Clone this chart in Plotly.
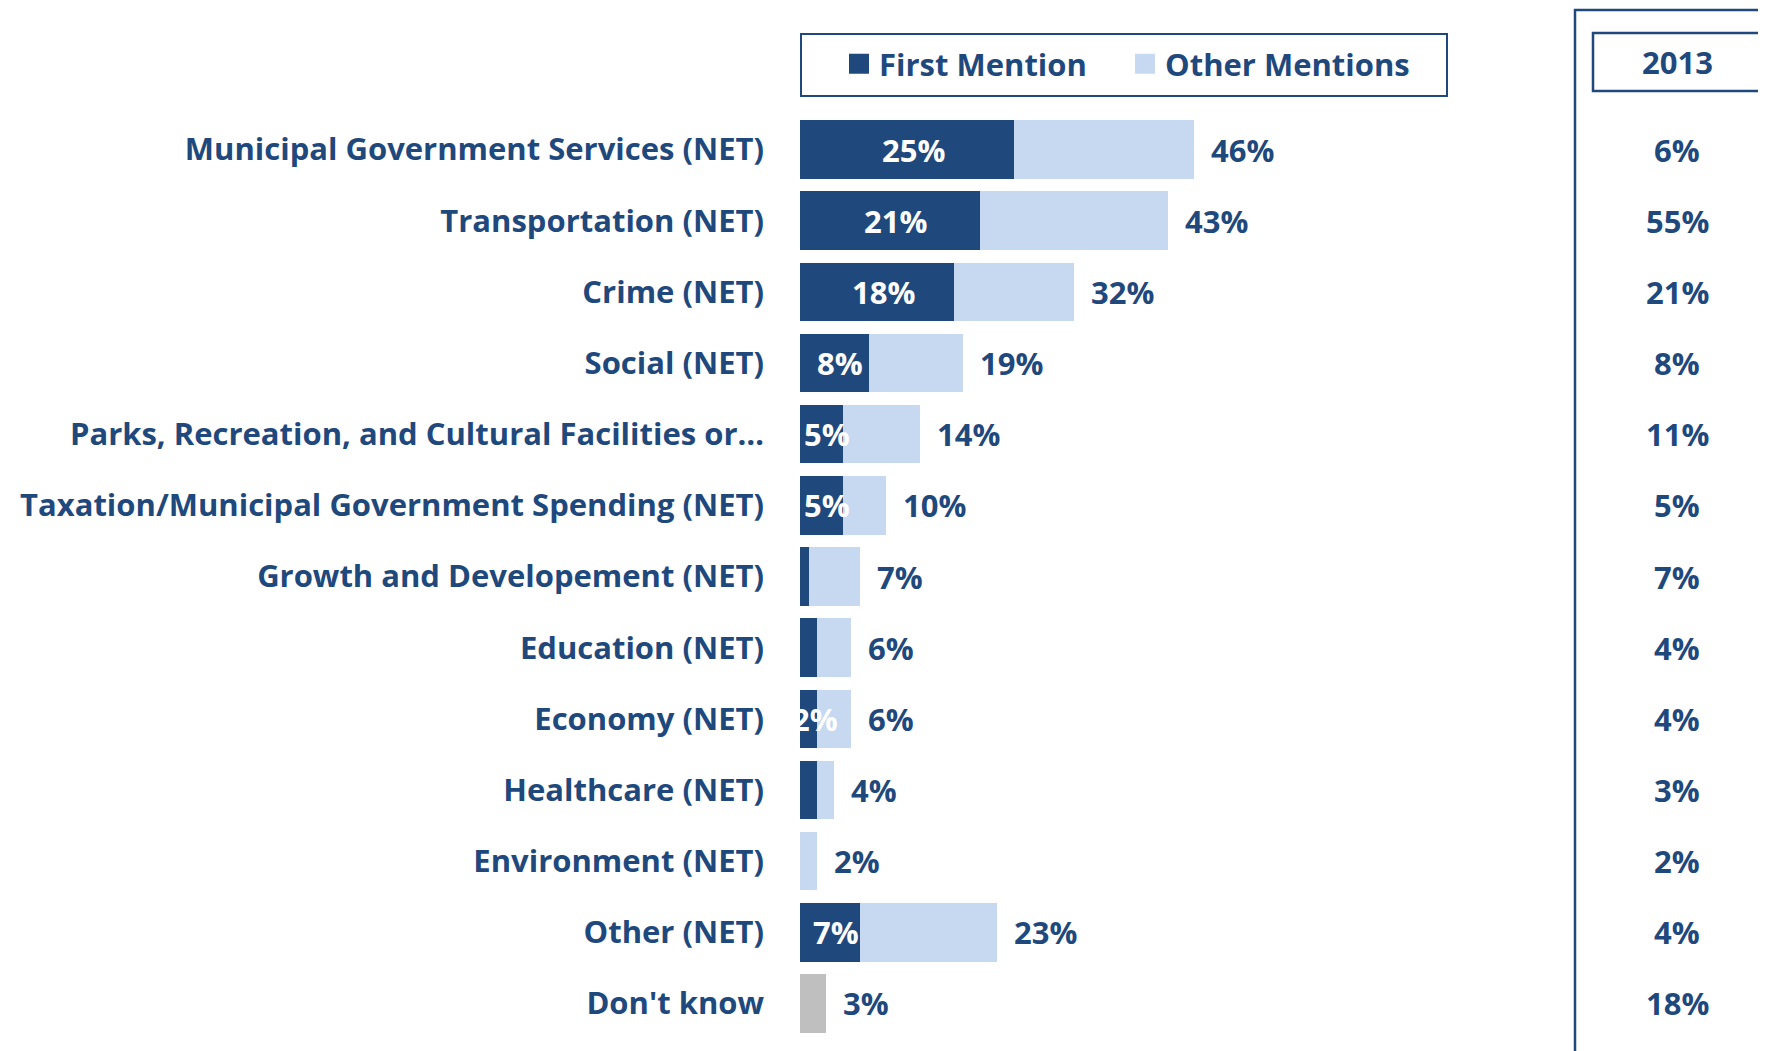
import plotly.graph_objects as go

categories = [
    "Municipal Government Services (NET)",
    "Transportation (NET)",
    "Crime (NET)",
    "Social (NET)",
    "Parks, Recreation, and Cultural Facilities or…",
    "Taxation/Municipal Government Spending (NET)",
    "Growth and Developement (NET)",
    "Education (NET)",
    "Economy (NET)",
    "Healthcare (NET)",
    "Environment (NET)",
    "Other (NET)",
    "Don't know",
]
first_mention = [25, 21, 18, 8, 5, 5, 1, 2, 2, 2, 0, 7, None]
first_labels = ["25%", "21%", "18%", "8%", "5%", "5%", "", "", "2%", "", "", "7%", ""]
total_mention = [46, 43, 32, 19, 14, 10, 7, 6, 6, 4, 2, 23, None]
dont_know = [None] * 12 + [3]
year_2013 = [6, 55, 21, 8, 11, 5, 7, 4, 4, 3, 2, 4, 18]

DARK = "#1F497D"
LIGHT = "#C6D9F1"
GREY = "#BFBFBF"
FONT = "Open Sans"
FS = 31

other_mention = [None if t is None else t - f for t, f in zip(total_mention, first_mention)]
bar_totals = [t if t is not None else d for t, d in zip(total_mention, dont_know)]

# page geometry in pixels; the page body adds an 8px offset
W, H = 1766, 1051
OFF = 8
L, T, PW, PH = 792, 106, 514, 925
R, B = W - L - PW, H - T - PH


def px_x(px):
    return (px - OFF - L) / PW


def px_y(py):
    return (H - B - (py - OFF)) / PH


def bold(size=FS, color=DARK):
    return dict(family=FONT, size=size, color=color, weight="bold")


fig = go.Figure()
fig.add_trace(go.Bar(
    y=categories, x=first_mention, orientation="h", name="First Mention",
    marker=dict(color=DARK, line=dict(width=0)), showlegend=False,
    legendgroup="first",
))
fig.add_trace(go.Bar(
    y=categories, x=other_mention, orientation="h", name="Other Mentions",
    marker=dict(color=LIGHT, line=dict(width=0)), showlegend=False,
    legendgroup="other",
))
fig.add_trace(go.Bar(
    y=categories, x=dont_know, orientation="h", name="Don't know",
    marker=dict(color=GREY, line=dict(width=0)), showlegend=False,
))
# legend entries with bigger square swatches
for name, color, group, leg in [("First Mention", DARK, "first", "legend"),
                                ("Other Mentions", LIGHT, "other", "legend2")]:
    fig.add_trace(go.Scatter(
        x=[None], y=[None], mode="markers", name=name, legendgroup=group, legend=leg,
        marker=dict(symbol="square", size=16, color=color, line=dict(color=color, width=4)),
    ))

annotations = []
for cat, f, lab in zip(categories, first_mention, first_labels):
    if lab:
        annotations.append(dict(
            x=f / 2, y=cat, xref="x", yref="y", text=lab, showarrow=False,
            xanchor="center", xshift=6, font=bold(color="white"),
        ))
for cat, tot in zip(categories, bar_totals):
    annotations.append(dict(
        x=tot, y=cat, xref="x", yref="y", text=f"{tot}%", showarrow=False,
        xanchor="left", xshift=15, font=bold(),
    ))
for cat, v in zip(categories, year_2013):
    annotations.append(dict(
        x=px_x(1677), y=cat, xref="paper", yref="y", text=f"{v}%", showarrow=False,
        xanchor="center", font=bold(),
    ))
annotations.append(dict(
    x=px_x(1677), y=px_y(62), xref="paper", yref="paper", text="2013", showarrow=False,
    xanchor="center", yanchor="middle", font=bold(),
))

shapes = [
    # legend frame
    dict(type="rect", xref="paper", yref="paper",
         x0=px_x(801), x1=px_x(1447), y0=px_y(34), y1=px_y(96),
         line=dict(color=DARK, width=2)),
    # 2013 header frame
    dict(type="rect", xref="paper", yref="paper",
         x0=px_x(1593), x1=px_x(1761), y0=px_y(33), y1=px_y(91),
         line=dict(color=DARK, width=2.5)),
    # 2013 column panel
    dict(type="path", xref="paper", yref="paper",
         path=f"M {px_x(1575)} {px_y(1070)} L {px_x(1575)} {px_y(10)} L {px_x(1790)} {px_y(10)}",
         line=dict(color=DARK, width=2.5)),
]

legend_style = dict(
    orientation="h", y=px_y(64), xanchor="left", yanchor="middle",
    font=bold(), bgcolor="rgba(0,0,0,0)", itemclick=False,
)

fig.update_layout(
    width=W, height=H,
    margin=dict(l=L, r=R, t=T, b=B),
    barmode="stack", bargap=0.177,
    plot_bgcolor="white", paper_bgcolor="white",
    font=dict(family=FONT, size=FS, color=DARK),
    legend=dict(x=px_x(839), **legend_style),
    legend2=dict(x=px_x(1125), **legend_style),
    xaxis=dict(range=[0, 60], visible=False, fixedrange=True),
    yaxis=dict(
        autorange="reversed", showgrid=False, showline=False, zeroline=False,
        ticks="", ticklabelstandoff=35, tickfont=bold(),
    ),
    annotations=annotations,
    shapes=shapes,
)

fig.write_html("out.html")
